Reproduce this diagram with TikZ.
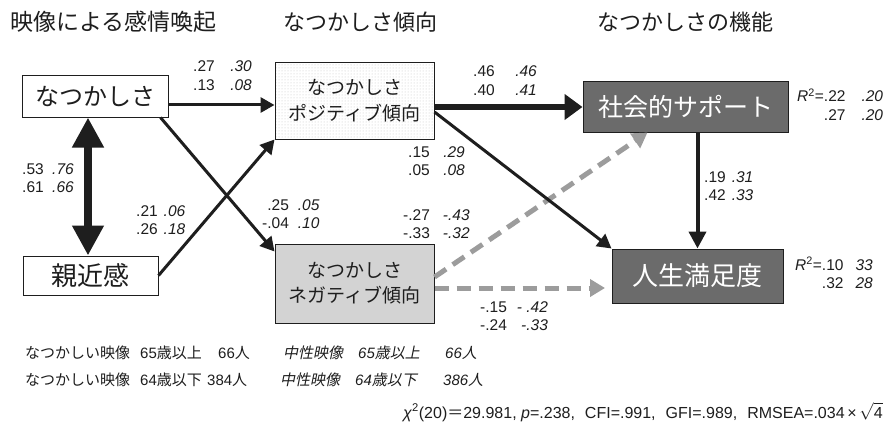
\documentclass[tikz,border=0pt]{standalone}
\usepackage{fontspec}
\setmainfont{Liberation Sans}
\newfontfamily\jp{Noto Sans CJK JP}
\newfontfamily\jpit[FakeSlant=0.2]{Noto Sans CJK JP}
\usetikzlibrary{arrows.meta,patterns,calc}
\definecolor{ink}{HTML}{1E1E1E}
\definecolor{darkbox}{HTML}{6B6B6B}
\definecolor{negfill}{HTML}{D3D3D3}
\definecolor{dashgray}{HTML}{9C9C9C}
\newcommand\cfpair[5]{\begin{tabular}[t]{@{}r@{\hspace{#1}}l@{}}#2&\textit{#3}\\#4&\textit{#5}\end{tabular}}
\tikzset{
  box/.style={draw=ink, line width=1pt, inner sep=0pt, align=center, text=ink},
  num/.style={font=\fontsize{15.5}{18.5}\selectfont, text=ink, inner sep=0pt, anchor=base west},
  btxt/.style={font=\fontsize{15}{18}\selectfont, text=ink, inner sep=0pt, anchor=base west},
  ttl/.style={font=\jp\fontsize{22}{26}\selectfont, text=ink, inner sep=0pt, anchor=west},
  arr/.style={draw=ink, line width=3pt, -{Triangle[length=14pt,width=15pt]}},
  thickarr/.style={draw=ink, line width=6pt, -{Triangle[length=18pt,width=25pt]}},
  midarr/.style={draw=ink, line width=4pt, -{Triangle[length=17pt,width=17pt]}},
  dasharr/.style={draw=dashgray, line width=5pt, dash pattern=on 14pt off 8pt, -{Triangle[length=15pt,width=17pt]}},
  dblarr/.style={draw=ink, line width=8pt, {Triangle[length=30pt,width=30pt]}-{Triangle[length=30pt,width=30pt]}}
}
\begin{document}
\begin{tikzpicture}[x=1pt,y=-1pt]
\useasboundingbox[fill=white] (0,0) rectangle (890,425);
% titles
\node[ttl, font=\jp\fontsize{23}{26}\selectfont] (t1) at (10,22) {映像による感情喚起};
\node[ttl] (t2) at (283,22) {なつかしさ傾向};
\node[ttl] (t3) at (597,22) {なつかしさの機能};
% boxes
\node[box, minimum width=146pt, minimum height=41pt, font=\jp\fontsize{24}{28}\selectfont] (nat) at (95,96.5) {なつかしさ};
\node[box, minimum width=135pt, minimum height=39pt, font=\jp\fontsize{26}{30}\selectfont] (shin) at (90.5,275.5) {親近感};
\node[box, minimum width=159pt, minimum height=76pt, font=\jp\fontsize{19}{26}\selectfont,
      preaction={fill=white}, pattern=dots, pattern color=gray!45] (pos) at (354.5,101) {なつかしさ\\ポジティブ傾向};
\node[box, fill=negfill, minimum width=159pt, minimum height=79pt, font=\jp\fontsize{19}{25}\selectfont] (neg) at (354.5,283.5) {なつかしさ\\ネガティブ傾向};
\node[box, fill=darkbox, text=white, minimum width=205pt, minimum height=50pt, font=\jp\fontsize{25}{29}\selectfont] (soc) at (685.5,107) {社会的サポート};
\node[box, fill=darkbox, text=white, minimum width=171pt, minimum height=54pt, font=\jp\fontsize{26}{30}\selectfont] (life) at (697.5,276) {人生満足度};
% helper coordinates
\coordinate (dx) at (88,0);
\coordinate (np) at ([yshift=-8.5pt]nat.east);
\coordinate (nlend) at (605,288);
% connectors
\draw[dasharr] ([yshift=6.5pt]neg.east) -- ([xshift=-38pt]soc.south);
\draw[dasharr] ([yshift=-4.5pt]neg.east) -- (nlend);
\draw[dblarr] (nat.south -| dx) -- (shin.north -| dx);
\draw[arr] (np) -- (np -| pos.west);
\draw[arr] ([xshift=-8pt]nat.south east) -- ([yshift=-8pt]neg.north west);
\draw[arr] (shin.east) -- (pos.south west);
\draw[thickarr] (pos.east |- soc.west) -- (soc.west);
\draw[arr] ([yshift=-11pt]pos.east) -- (life.north west);
\draw[midarr] (soc.south -| life.north) -- (life.north);
% coefficients
\node[num] (c1) at (193,72) {\cfpair{15.5pt}{.27}{.30}{.13}{.08}};
\node[num] (c2) at (473,77) {\cfpair{20.5pt}{.46}{.46}{.40}{.41}};
\node[num] (c3) at (408,157) {\cfpair{13.5pt}{.15}{.29}{.05}{.08}};
\node[num] (c4) at (22,174) {\cfpair{8.5pt}{.53}{.76}{.61}{.66}};
\node[num] (c5) at (136,216) {\cfpair{6pt}{.21}{.06}{.26}{.18}};
\node[num] (c6) at (262,210) {\cfpair{9pt}{.25}{.05}{-.04}{.10}};
\node[num] (c7) at (403,220) {\cfpair{13pt}{-.27}{-.43}{-.33}{-.32}};
\node[num] (c8) at (480,312) {\begin{tabular}[t]{@{}r@{\hspace{10pt}}r@{}}-.15&\textit{- .42}\\-.24&\textit{-.33}\end{tabular}};
\node[num] (c9) at (704,182) {\cfpair{6pt}{.19}{.31}{.42}{.33}};
\node[num] (c10) at (797,102) {\cfpair{16pt}{\textit{R}\textsuperscript{2}=.22}{.20}{.27}{.20}};
\node[num] (c11) at (795,270) {\cfpair{12pt}{\textit{R}\textsuperscript{2}=.10}{33}{.32}{28}};
% sample notes
\node[btxt] (b1) at (25,358) {\jp なつかしい映像};
\node[btxt] (b2) at (140,358) {65{\jp 歳以上}};
\node[btxt] (b3) at (218,358) {66{\jp 人}};
\node[btxt] (b4) at (283,358) {\jpit 中性映像};
\node[btxt] (b5) at (358,358) {\textit{65}{\jpit 歳以上}};
\node[btxt] (b6) at (445,358) {\textit{66}{\jpit 人}};
\node[btxt] (b7) at (25,385) {\jp なつかしい映像};
\node[btxt] (b8) at (140,385) {64{\jp 歳以下}};
\node[btxt] (b9) at (207,385) {384{\jp 人}};
\node[btxt] (b10) at (280,385) {\jpit 中性映像};
\node[btxt] (b11) at (355,385) {\textit{64}{\jpit 歳以下}};
\node[btxt] (b12) at (443,385) {\textit{386}{\jpit 人}};
% fit statistics
\node[btxt, font=\fontsize{16}{19}\selectfont] (fit) at (403,418) {\textit{χ}\textsuperscript{2}(20){\jp ＝}29.981, \textit{p}=.238,\hspace{10pt}CFI=.991,\hspace{10pt}GFI=.989,\hspace{10pt}RMSEA=.034\,×\,$\sqrt{\mbox{4}}$};
\end{tikzpicture}
\end{document}
